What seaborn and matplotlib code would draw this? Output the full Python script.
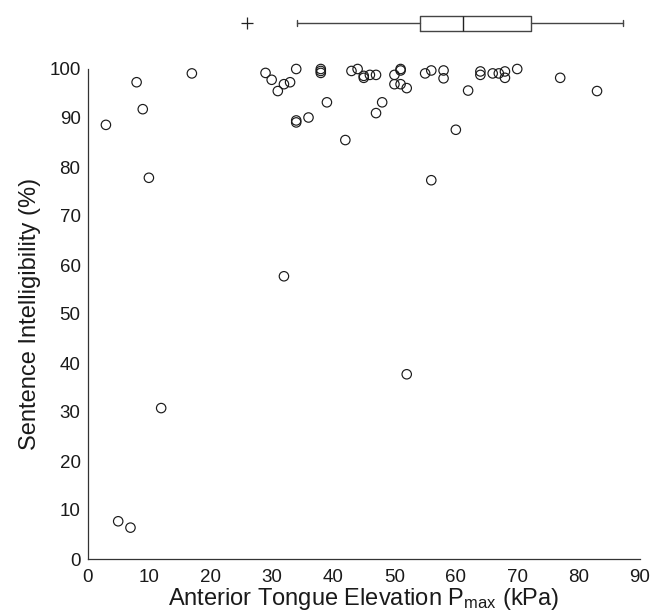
import matplotlib
matplotlib.use("Agg")
import matplotlib.pyplot as plt
import seaborn as sns
import pandas as pd

# Scatter data: anterior tongue elevation Pmax (kPa) vs sentence intelligibility (%)
pmax = [3, 5, 7, 8, 9, 10, 12, 17,
        29, 30, 31, 32, 32, 33, 34, 34, 34, 36,
        38, 38, 38, 39, 42, 43, 44, 45, 45, 46,
        47, 47, 48, 50, 50, 51, 51, 51, 52, 52,
        55, 56, 56, 58, 58, 60, 62, 64, 64, 66,
        67, 68, 68, 70, 77, 83]
intelligibility = [88.6, 7.7, 6.4, 97.3, 91.8, 77.8, 30.8, 99.1,
                   99.2, 97.8, 95.5, 96.9, 57.7, 97.3, 100, 89.5, 89.1, 90.1,
                   100, 99.6, 99.2, 93.2, 85.5, 99.6, 100, 98.6, 98.2, 98.8,
                   98.8, 91.0, 93.2, 98.8, 96.9, 100, 99.7, 96.9, 96.1, 37.7,
                   99.1, 99.7, 77.3, 99.7, 98.1, 87.6, 95.6, 99.5, 98.8, 99.1,
                   99.1, 99.5, 98.2, 100, 98.2, 95.5]

# Reference boxplot (normative Pmax) summary
box_whislo = 34.1
box_q1 = 54.2
box_med = 61.1
box_q3 = 72.2
box_whishi = 87.2
box_fliers = [26.0]

x_ticks = [0, 10, 20, 30, 40, 50, 60, 70, 80, 90]
y_ticks = [0, 10, 20, 30, 40, 50, 60, 70, 80, 90, 100]

df = pd.DataFrame({"pmax": pmax, "intel": intelligibility})

sns.set_style("white")
plt.rcParams["font.family"] = ["Liberation Sans", "DejaVu Sans"]
plt.rcParams["mathtext.fontset"] = "custom"
plt.rcParams["mathtext.rm"] = "Liberation Sans"
plt.rcParams["mathtext.it"] = "Liberation Sans"

W, H = 666, 616
fig = plt.figure(figsize=(W / 100, H / 100), dpi=100)
L, R, T, B = 87.5, 640, 69, 559
ax = fig.add_axes([L / W, 1 - B / H, (R - L) / W, (B - T) / H])

sns.scatterplot(data=df, x="pmax", y="intel", ax=ax, marker="o", s=46,
                facecolor="none", edgecolor="#1a1a1a", linewidth=0.85,
                clip_on=False, zorder=3)

ax.set_xlim(0, 90)
ax.set_ylim(0, 100)
ax.set_xticks(x_ticks)
ax.set_yticks(y_ticks)
ax.tick_params(direction="in", length=4, width=0.8, color="#777777",
               labelsize=13.5, labelcolor="#1a1a1a")
ax.tick_params(axis="x", pad=7)
ax.tick_params(axis="y", pad=5)
for s in ["top", "right"]:
    ax.spines[s].set_visible(False)
for s in ["left", "bottom"]:
    ax.spines[s].set_color("#333333")
    ax.spines[s].set_linewidth(0.9)

ax.set_xlabel(r"Anterior Tongue Elevation P$_{\mathregular{max}}$ (kPa)",
              fontsize=17, color="#1a1a1a", labelpad=0)
ax.set_ylabel("Sentence Intelligibility (%)", fontsize=17,
              color="#1a1a1a", labelpad=6)

# Boxplot above
bt, bb = 8, 38
ax2 = fig.add_axes([L / W, 1 - bb / H, (R - L) / W, (bb - bt) / H], sharex=ax)
stats = [dict(whislo=box_whislo, q1=box_q1, med=box_med, q3=box_q3,
              whishi=box_whishi, fliers=box_fliers)]
lc = "#444444"
ax2.bxp(stats, positions=[1], widths=0.5, orientation="horizontal",
        capwidths=0.22,
        boxprops=dict(color=lc, linewidth=1.0),
        medianprops=dict(color="#222222", linewidth=1.0),
        whiskerprops=dict(color=lc, linewidth=1.0),
        capprops=dict(color=lc, linewidth=1.0),
        flierprops=dict(marker="+", markersize=9, markeredgecolor="#222222",
                        markeredgewidth=0.9))
ax2.set_ylim(0.5, 1.5)
ax2.axis("off")

fig.savefig("out.png", dpi=100)
